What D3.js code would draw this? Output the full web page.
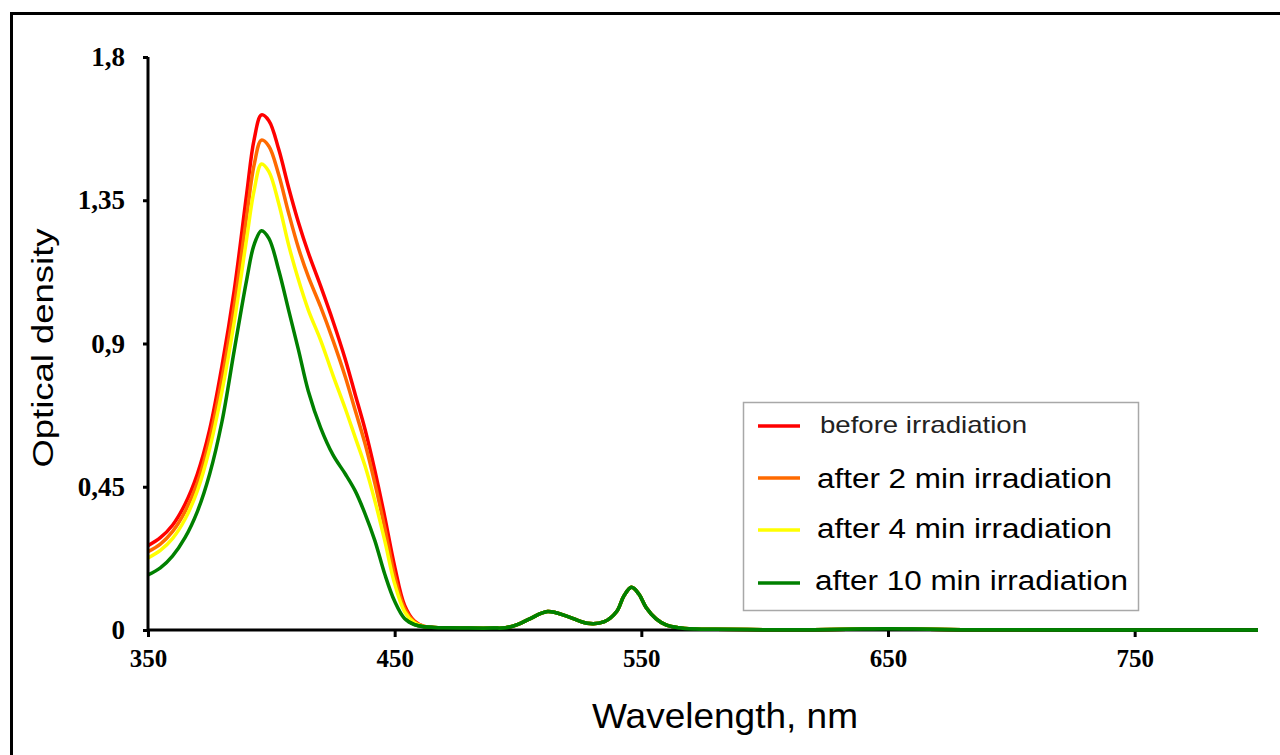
<!DOCTYPE html>
<html>
<head>
<meta charset="utf-8">
<script src="https://cdn.jsdelivr.net/npm/d3@7"></script>
<style>
  html, body { margin: 0; padding: 0; background: #fff; }
  svg { display: block; }
</style>
</head>
<body>
<svg id="chart" width="1280" height="755"></svg>
<script>
// ---- data ----
const wavelengths = [350,355,360,365,370,375,380,385,390,393,396,399,403,407,411,415,420,425,430,434,438,442,446,450,454,458,462,466,470,480,490,495,500,505,512,520,528,535,540,543,546,549,552,556,560,565,572,580,600,620,640,650,660,680,700,750,800];

const tail = [0.008,0.007,0.006,0.006,0.007,0.018,0.036,0.058,0.043,0.021,0.026,0.058,0.108,0.134,0.113,0.07,0.035,0.016,0.007,0.003,0.002,0.001,0.001,0.003,0.004,0.003,0.001,0.001,0.0,0.0];

const redValues = [0.265,0.29,0.33,0.395,0.49,0.63,0.83,1.07,1.37,1.54,1.618,1.60,1.51,1.39,1.28,1.185,1.08,0.97,0.85,0.74,0.63,0.50,0.355,0.20,0.078,0.028,0.011].concat(tail);
const orangeValues = [0.246,0.27,0.31,0.372,0.462,0.60,0.79,1.02,1.30,1.46,1.539,1.52,1.43,1.31,1.20,1.11,1.015,0.91,0.795,0.69,0.585,0.46,0.32,0.17,0.068,0.026,0.011].concat(tail);
const yellowValues = [0.226,0.25,0.288,0.348,0.437,0.57,0.75,0.97,1.23,1.38,1.464,1.44,1.34,1.21,1.10,1.005,0.91,0.80,0.695,0.605,0.515,0.405,0.28,0.145,0.058,0.023,0.01].concat(tail);
const greenValues = [0.173,0.195,0.233,0.29,0.372,0.49,0.655,0.88,1.10,1.21,1.254,1.23,1.13,1.005,0.88,0.75,0.635,0.55,0.49,0.437,0.365,0.28,0.175,0.09,0.036,0.017,0.01].concat(tail);

const seriesNames = ["before irradiation","after 2 min irradiation","after 4 min irradiation","after 10 min irradiation"];
const seriesColors = ["#ff0000","#ff6a00","#ffff00","#008000"];
const seriesValues = [redValues, orangeValues, yellowValues, greenValues];

const yTicks = [0, 0.45, 0.9, 1.35, 1.8];
const yTickLabels = ["0","0,45","0,9","1,35","1,8"];
const xTicks = [350, 450, 550, 650, 750];
const xTickLabels = ["350","450","550","650","750"];
const xTitle = "Wavelength, nm";
const yTitle = "Optical density";

// ---- layout ----
const svg = d3.select("#chart");
const x = d3.scaleLinear().domain([350, 800]).range([148, 1258]);
const y = d3.scaleLinear().domain([0, 1.8]).range([630, 57]);

// outer frame (left and top visible)
svg.append("path")
  .attr("d", "M11.5,755 L11.5,13.5 L1280,13.5")
  .attr("fill", "none").attr("stroke", "#000").attr("stroke-width", 3);

// curves
const line = d3.line()
  .x((d, i) => x(wavelengths[i]))
  .y(d => y(d))
  .curve(d3.curveCatmullRom.alpha(0.5));

svg.append("g").selectAll("path")
  .data(seriesValues)
  .join("path")
  .attr("d", d => line(d))
  .attr("fill", "none")
  .attr("stroke", (d, i) => seriesColors[i])
  .attr("stroke-width", 3.5)
  .attr("stroke-linejoin", "round");

// axes
const yAxis = d3.axisLeft(y).tickValues(yTicks).tickFormat((d, i) => yTickLabels[i]).tickSize(5).tickPadding(18);
const gy = svg.append("g").attr("transform", "translate(148,0)").call(yAxis);
gy.select(".domain").attr("stroke-width", 3).attr("d", "M0," + y(1.8) + "V" + y(0));
gy.selectAll(".tick line").attr("stroke-width", 3);
gy.selectAll(".tick text")
  .attr("font-family", "'Liberation Serif', 'Times New Roman', serif")
  .attr("font-weight", "bold").attr("font-size", 27).attr("fill", "#000");

const xAxis = d3.axisBottom(x).tickValues(xTicks).tickFormat((d, i) => xTickLabels[i]).tickSize(7).tickPadding(12);
const gx = svg.append("g").attr("transform", "translate(0,630)").call(xAxis);
gx.select(".domain").attr("stroke-width", 3).attr("d", "M" + x(350) + ",0H" + x(800));
gx.selectAll(".tick line").attr("stroke-width", 3);
gx.selectAll(".tick text")
  .attr("font-family", "'Liberation Serif', 'Times New Roman', serif")
  .attr("font-weight", "bold").attr("font-size", 25).attr("fill", "#000");

// green tail drawn over the x-axis line, as in the original
svg.append("clipPath").attr("id", "tailclip")
  .append("rect").attr("x", x(455)).attr("y", 0).attr("width", 900).attr("height", 755);
svg.append("path")
  .attr("d", line(greenValues))
  .attr("fill", "none").attr("stroke", seriesColors[3]).attr("stroke-width", 3.5)
  .attr("clip-path", "url(#tailclip)");

// titles
svg.append("text")
  .attr("x", 725).attr("y", 728)
  .attr("text-anchor", "middle")
  .attr("font-family", "'Liberation Sans', Arial, sans-serif")
  .attr("font-size", 35)
  .attr("textLength", 266).attr("lengthAdjust", "spacingAndGlyphs")
  .attr("fill", "#000")
  .text(xTitle);

svg.append("text")
  .attr("transform", "translate(53,348) rotate(-90)")
  .attr("text-anchor", "middle")
  .attr("font-family", "'Liberation Sans', Arial, sans-serif")
  .attr("font-size", 29)
  .attr("textLength", 239).attr("lengthAdjust", "spacingAndGlyphs")
  .attr("fill", "#000")
  .text(yTitle);

// legend
const legend = svg.append("g");
legend.append("rect")
  .attr("x", 743.5).attr("y", 402.5).attr("width", 395).attr("height", 208)
  .attr("fill", "#fff").attr("stroke", "#a8a8a8").attr("stroke-width", 1.5);

const legendY = [426, 478, 530, 583];
const legendTextX = [820, 817, 817, 815];
const legendBase = [433, 488, 538, 590];
const legendSize = [24, 27, 27, 27];
const legendLen = [207, 295, 295, 313];

legend.selectAll("line.item")
  .data(seriesNames)
  .join("line")
  .attr("class", "item")
  .attr("x1", 758).attr("x2", 800)
  .attr("y1", (d, i) => legendY[i]).attr("y2", (d, i) => legendY[i])
  .attr("stroke", (d, i) => seriesColors[i])
  .attr("stroke-width", 3.5);

legend.selectAll("text.item")
  .data(seriesNames)
  .join("text")
  .attr("class", "item")
  .attr("x", (d, i) => legendTextX[i])
  .attr("y", (d, i) => legendBase[i])
  .attr("font-family", "'Liberation Sans', Arial, sans-serif")
  .attr("font-size", (d, i) => legendSize[i])
  .attr("textLength", (d, i) => legendLen[i]).attr("lengthAdjust", "spacingAndGlyphs")
  .attr("fill", (d, i) => i === 0 ? "#222" : "#000")
  .text(d => d);
</script>
</body>
</html>
